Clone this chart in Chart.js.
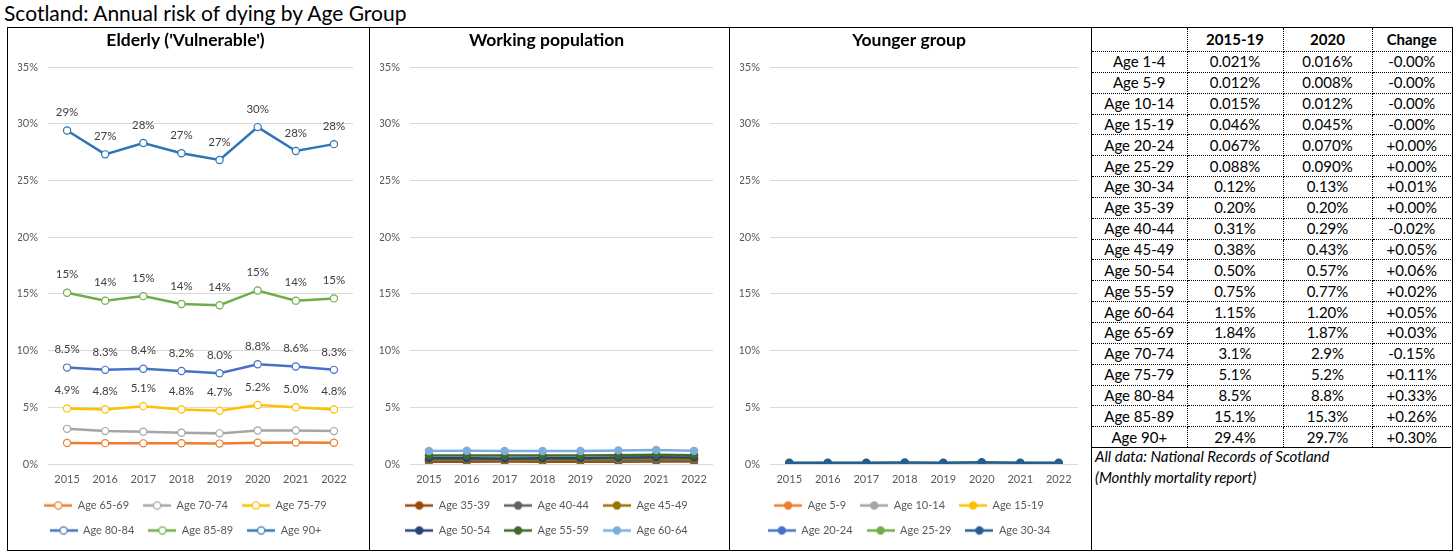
<!DOCTYPE html>
<html>
<head>
<meta charset="utf-8">
<script src="https://cdn.jsdelivr.net/npm/chart.js@4.4.1/dist/chart.umd.min.js"></script>
<style>
body { margin: 0; background: #fff; font-family: Lato, 'Open Sans', sans-serif; }
#title { position: absolute; left: 4px; top: 0px; font-size: 21px; color: #000; white-space: nowrap; }
#frame { position: absolute; left: 7px; top: 27px; width: 1444px; height: 522px; border: 1px solid #000; }
.divider { position: absolute; top: 27px; width: 1px; height: 523px; background: #000; }
canvas { position: absolute; top: 28px; }
#tbl { position: absolute; left: 1092px; top: 28px; width: 359px; border-collapse: collapse; table-layout: fixed; font-size: 15px; color: #000; }
#tbl td, #tbl th { border-right: 1px dotted #000; border-bottom: 1px dotted #000; text-align: center; padding: 0; line-height: 17px; }
#tbl td:last-child, #tbl th:last-child { border-right: none; }
#tbl tr:last-child td { border-bottom: 1px solid #000; }
#tbl th { height: 23px; font-weight: bold; }
#tbl td { height: 19.85px; }
#note { position: absolute; left: 1095px; top: 446px; font-size: 15px; font-style: italic; line-height: 21px; color: #000; }
</style>
</head>
<body>
<div id="title">Scotland: Annual risk of dying by Age Group</div>
<div id="frame"></div>
<div class="divider" style="left:369px"></div>
<div class="divider" style="left:729px"></div>
<div class="divider" style="left:1091px"></div>
<canvas id="elderly" width="361" height="522" style="left:8px"></canvas>
<canvas id="working" width="359" height="522" style="left:370px"></canvas>
<canvas id="younger" width="361" height="522" style="left:730px"></canvas>
<table id="tbl"></table>
<div id="note">All data: National Records of Scotland<br>(Monthly mortality report)</div>
<script>
// categories
var years = ['2015', '2016', '2017', '2018', '2019', '2020', '2021', '2022'];

// elderly group, % per year
var age65_69 = [1.85, 1.84, 1.82, 1.83, 1.80, 1.87, 1.90, 1.88];
var age70_74 = [3.10, 2.90, 2.85, 2.75, 2.70, 2.95, 2.95, 2.90];
var age75_79 = [4.9, 4.8, 5.1, 4.8, 4.7, 5.2, 5.0, 4.8];
var age80_84 = [8.5, 8.3, 8.4, 8.2, 8.0, 8.8, 8.6, 8.3];
var age85_89 = [15.1, 14.4, 14.8, 14.1, 14.0, 15.3, 14.4, 14.6];
var age90p = [29.4, 27.3, 28.3, 27.4, 26.8, 29.7, 27.6, 28.2];

// working population
var age35_39 = [0.19, 0.20, 0.21, 0.20, 0.20, 0.20, 0.23, 0.22];
var age40_44 = [0.30, 0.31, 0.32, 0.31, 0.31, 0.29, 0.33, 0.34];
var age45_49 = [0.38, 0.39, 0.38, 0.37, 0.38, 0.43, 0.45, 0.44];
var age50_54 = [0.50, 0.51, 0.49, 0.50, 0.50, 0.57, 0.60, 0.58];
var age55_59 = [0.76, 0.76, 0.74, 0.75, 0.74, 0.77, 0.82, 0.78];
var age60_64 = [1.15, 1.17, 1.14, 1.14, 1.14, 1.20, 1.24, 1.16];

// younger group
var age5_9 = [0.012, 0.011, 0.012, 0.010, 0.012, 0.008, 0.010, 0.011];
var age10_14 = [0.015, 0.016, 0.014, 0.015, 0.016, 0.012, 0.014, 0.015];
var age15_19 = [0.050, 0.047, 0.044, 0.046, 0.043, 0.045, 0.042, 0.044];
var age20_24 = [0.068, 0.066, 0.069, 0.065, 0.067, 0.070, 0.066, 0.064];
var age25_29 = [0.085, 0.090, 0.088, 0.087, 0.089, 0.090, 0.092, 0.091];
var age30_34 = [0.11, 0.12, 0.12, 0.13, 0.12, 0.15, 0.12, 0.12];

// table
var tableHead = ['', '2015-19', '2020', 'Change'];
var tableAges = ['Age 1-4', 'Age 5-9', 'Age 10-14', 'Age 15-19', 'Age 20-24', 'Age 25-29', 'Age 30-34',
  'Age 35-39', 'Age 40-44', 'Age 45-49', 'Age 50-54', 'Age 55-59', 'Age 60-64', 'Age 65-69',
  'Age 70-74', 'Age 75-79', 'Age 80-84', 'Age 85-89', 'Age 90+'];
var tableAvg = ['0.021%', '0.012%', '0.015%', '0.046%', '0.067%', '0.088%', '0.12%', '0.20%', '0.31%',
  '0.38%', '0.50%', '0.75%', '1.15%', '1.84%', '3.1%', '5.1%', '8.5%', '15.1%', '29.4%'];
var table2020 = ['0.016%', '0.008%', '0.012%', '0.045%', '0.070%', '0.090%', '0.13%', '0.20%', '0.29%',
  '0.43%', '0.57%', '0.77%', '1.20%', '1.87%', '2.9%', '5.2%', '8.8%', '15.3%', '29.7%'];
var tableChange = ['-0.00%', '-0.00%', '-0.00%', '-0.00%', '+0.00%', '+0.00%', '+0.01%', '+0.00%', '-0.02%',
  '+0.05%', '+0.06%', '+0.02%', '+0.05%', '+0.03%', '-0.15%', '+0.11%', '+0.33%', '+0.26%', '+0.30%'];

Chart.defaults.font.family = "Lato, 'Open Sans', sans-serif";
Chart.defaults.animation = false;

// line + marker icon for the legend, like the spreadsheet one
function legendIcon(color, fill) {
  var c = document.createElement('canvas');
  c.width = 28; c.height = 12;
  var g = c.getContext('2d');
  g.strokeStyle = color;
  g.lineWidth = 2.5;
  g.beginPath(); g.moveTo(0, 6); g.lineTo(28, 6); g.stroke();
  g.beginPath(); g.arc(14, 6, 3.6, 0, Math.PI * 2);
  g.fillStyle = fill; g.fill();
  g.lineWidth = 1.2; g.stroke();
  return c;
}

// value labels above the points (only where a format is given)
var pointLabels = {
  id: 'pointLabels',
  afterDatasetsDraw: function (chart, args, opts) {
    var ctx = chart.ctx;
    var fmts = opts.formats || {};
    chart.data.datasets.forEach(function (ds, i) {
      var fmt = fmts[ds.label];
      if (!fmt) return;
      ctx.save();
      ctx.font = '11.5px ' + Chart.defaults.font.family;
      ctx.fillStyle = '#404040';
      ctx.textAlign = 'center';
      ctx.textBaseline = 'middle';
      chart.getDatasetMeta(i).data.forEach(function (pt, j) {
        ctx.fillText(fmt(ds.data[j]), pt.x, pt.y - 18);
      });
      ctx.restore();
    });
  }
};

function makeSets(labels, values, colors, hollow) {
  return labels.map(function (lab, i) {
    return {
      label: lab,
      data: values[i],
      borderColor: colors[i],
      backgroundColor: colors[i],
      pointBackgroundColor: hollow ? '#fff' : colors[i],
      pointBorderColor: colors[i],
      pointBorderWidth: 1.2,
      pointRadius: 3.6,
      borderWidth: 2.5,
      order: -i,
      icon: legendIcon(colors[i], hollow ? '#fff' : colors[i])
    };
  });
}

function makeChart(id, title, sets, rightPad, formats) {
  return new Chart(document.getElementById(id), {
    type: 'line',
    data: { labels: years, datasets: sets },
    plugins: [pointLabels],
    options: {
      responsive: false,
      layout: { padding: { left: 10, right: rightPad, top: 0, bottom: 4 } },
      plugins: {
        title: {
          display: true, text: title, color: '#000',
          font: { size: 17.5, weight: 'bold' },
          padding: { top: 2, bottom: 16 }
        },
        legend: {
          position: 'bottom',
          labels: {
            usePointStyle: true,
            pointStyleWidth: 28,
            color: '#595959',
            font: { size: 11 },
            padding: 14,
            generateLabels: function (chart) {
              var items = Chart.defaults.plugins.legend.labels.generateLabels(chart);
              items.forEach(function (it) { it.pointStyle = chart.data.datasets[it.datasetIndex].icon; });
              return items.sort(function (a, b) { return a.datasetIndex - b.datasetIndex; });
            }
          }
        },
        tooltip: { enabled: false },
        pointLabels: { formats: formats || {} }
      },
      scales: {
        x: {
          offset: true,
          grid: { display: false, drawTicks: false },
          border: { display: false },
          ticks: { color: '#595959', font: { size: 11 }, padding: 8.5 },
          afterFit: function (s) { s.height = 22; }
        },
        y: {
          min: 0, max: 35,
          grid: { color: '#D9D9D9', drawTicks: false },
          border: { display: false },
          ticks: { stepSize: 5, color: '#595959', font: { size: 11 }, padding: 10,
            callback: function (v) { return v + '%'; } },
          afterFit: function (s) { s.width = 30; }
        }
      }
    }
  });
}

var whole = function (v) { return Math.round(v) + '%'; };
var oneDp = function (v) { return v.toFixed(1) + '%'; };

makeChart('elderly', "Elderly ('Vulnerable')",
  makeSets(['Age 65-69', 'Age 70-74', 'Age 75-79', 'Age 80-84', 'Age 85-89', 'Age 90+'],
    [age65_69, age70_74, age75_79, age80_84, age85_89, age90p],
    ['#ED7D31', '#A5A5A5', '#FFC000', '#4472C4', '#70AD47', '#2E75B6'], true),
  16, { 'Age 75-79': oneDp, 'Age 80-84': oneDp, 'Age 85-89': whole, 'Age 90+': whole });

makeChart('working', 'Working population',
  makeSets(['Age 35-39', 'Age 40-44', 'Age 45-49', 'Age 50-54', 'Age 55-59', 'Age 60-64'],
    [age35_39, age40_44, age45_49, age50_54, age55_59, age60_64],
    ['#9E480E', '#636363', '#997300', '#264478', '#43682B', '#7CAFDD'], false),
  16);

makeChart('younger', 'Younger group',
  makeSets(['Age 5-9', 'Age 10-14', 'Age 15-19', 'Age 20-24', 'Age 25-29', 'Age 30-34'],
    [age5_9, age10_14, age15_19, age20_24, age25_29, age30_34],
    ['#ED7D31', '#A5A5A5', '#FFC000', '#4472C4', '#70AD47', '#255E91'], false),
  13);

// summary table
var tbl = document.getElementById('tbl');
var html = '<colgroup><col style="width:95px"><col style="width:96px"><col style="width:89px"><col style="width:79px"></colgroup>';
html += '<tr>' + tableHead.map(function (h) { return '<th>' + h + '</th>'; }).join('') + '</tr>';
tableAges.forEach(function (a, i) {
  html += '<tr><td>' + a + '</td><td>' + tableAvg[i] + '</td><td>' + table2020[i] + '</td><td>' + tableChange[i] + '</td></tr>';
});
tbl.innerHTML = html;
</script>
</body>
</html>
